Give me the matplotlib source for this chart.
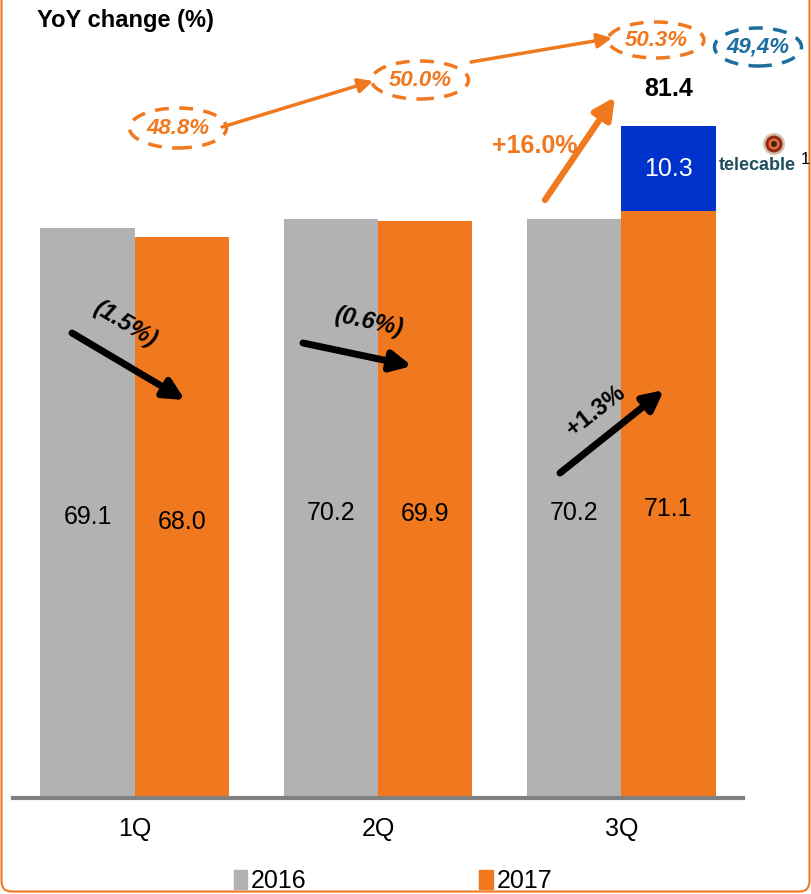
import matplotlib
matplotlib.use('Agg')
import numpy as np
from matplotlib import pyplot as plt
from matplotlib.patches import Ellipse, FancyBboxPatch, FancyArrowPatch, Patch

plt.rcParams['font.family'] = ['Liberation Sans', 'DejaVu Sans']

quarters = ['1Q', '2Q', '3Q']
v2016 = [69.1, 70.2, 70.2]
v2017 = [68.0, 69.9, 71.1]
telecable = [0, 0, 10.3]
total_3q = 81.4
yoy_labels = ['(1.5%)', '(0.6%)', '+1.3%']
share_labels = ['48.8%', '50.0%', '50.3%']
share_telecable = '49,4%'
growth_label = '+16.0%'

GREY = '#B2B2B2'
ORANGE = '#F0781E'
BLUE = '#0033CC'
TEAL = '#1B6E9E'

W, H = 812, 894


def px(x, y):
    # pixel position -> figure fraction
    return (x / W, 1 - y / H)


fig = plt.figure(figsize=(W / 100, H / 100), dpi=100)
ax = fig.add_axes([13 / W, (H - 798) / H, 730 / W, 95 * 8.25 / H])

x = np.arange(len(quarters))
bw = 0.387
b16 = ax.bar(x - bw / 2, v2016, bw, color=GREY, label='2016')
b17 = ax.bar(x + bw / 2, v2017, bw, color=ORANGE, label='2017')
btc = ax.bar(x + bw / 2, telecable, bw, bottom=v2017, color=BLUE)

for bars, vals in [(b16, v2016), (b17, v2017)]:
    for r, v in zip(bars, vals):
        ax.text(r.get_x() + r.get_width() / 2, v / 2 - 0.5, f'{v:.1f}',
                ha='center', va='center', fontsize=18, color='black')
r = btc[2]
ax.text(r.get_x() + r.get_width() / 2, v2017[2] + telecable[2] / 2,
        f'{telecable[2]:.1f}', ha='center', va='center', fontsize=18, color='white')
ax.text(r.get_x() + r.get_width() / 2, total_3q + 4.5, f'{total_3q:.1f}',
        ha='center', va='center', fontsize=18, fontweight='bold')

ax.set_xlim(-0.5, 2.5)
ax.set_ylim(0, 95)
ax.set_xticks(x)
ax.set_xticklabels(quarters, fontsize=18)
ax.tick_params(axis='x', length=0, pad=14)
ax.set_yticks([])
for s in ['top', 'left', 'right']:
    ax.spines[s].set_visible(False)
ax.spines['bottom'].set_color('#808080')
ax.spines['bottom'].set_linewidth(3)

# title
fig.text(*px(37, 21), 'YoY change (%)', fontsize=17, fontweight='bold', va='center')

# black yoy arrows
arrows = [((72, 333), (185, 400), (125, 324), -31),
          ((303, 343), (412, 366), (369, 322), -12),
          ((560, 473), (664, 390), (596, 411), 38)]
for lab, (p0, p1, pt, rot) in zip(yoy_labels, arrows):
    fig.add_artist(FancyArrowPatch(
        px(*p0), px(*p1), transform=fig.transFigure, arrowstyle='-|>',
        mutation_scale=30, lw=5, color='black', shrinkA=0, shrinkB=0))
    style = 'italic' if lab.startswith('(') else 'normal'
    fig.text(*px(*pt), lab, fontsize=17, fontweight='bold', style=style,
             rotation=rot, ha='center', va='center', rotation_mode='anchor')

# share ellipses
ell = [((178, 128), 97, 40), ((420, 80), 97, 38), ((656, 40), 96, 36)]
for lab, (c, w, h) in zip(share_labels, ell):
    fig.add_artist(Ellipse(px(*c), w / W, h / H, transform=fig.transFigure,
                           fill=False, ec=ORANGE, lw=2.5, ls=(0, (4, 3))))
    fig.text(*px(*c), lab, fontsize=16, fontweight='bold', style='italic',
             color=ORANGE, ha='center', va='center')
fig.add_artist(Ellipse(px(758, 47), 87 / W, 38 / H, transform=fig.transFigure,
                       fill=False, ec=TEAL, lw=2.5, ls=(0, (4, 3))))
fig.text(*px(758, 47), share_telecable, fontsize=16, fontweight='bold',
         style='italic', color=TEAL, ha='center', va='center')

# thin orange connectors
for p0, p1 in [((222, 127), (373, 81)), ((471, 62), (612, 38))]:
    fig.add_artist(FancyArrowPatch(
        px(*p0), px(*p1), transform=fig.transFigure, arrowstyle='-|>',
        mutation_scale=22, lw=2.5, color=ORANGE, shrinkA=0, shrinkB=0))

# +16% arrow
fig.add_artist(FancyArrowPatch(
    px(545, 200), px(615, 97), transform=fig.transFigure, arrowstyle='-|>',
    mutation_scale=32, lw=4.5, color=ORANGE, shrinkA=0, shrinkB=0))
fig.text(*px(535, 146), growth_label, fontsize=18, fontweight='bold',
         color=ORANGE, ha='center', va='center')

# telecable logo
for rad, col in [(11, '#D8C0A8'), (8.5, '#8B2A1A'), (5.5, '#E07030'), (3, '#3A2020')]:
    fig.add_artist(Ellipse(px(774, 144), 2 * rad / W, 2 * rad / H,
                           transform=fig.transFigure, color=col, lw=0))
fig.text(*px(757, 166), 'telecable', fontsize=13, fontweight='bold',
         color='#1F4E5F', ha='center', va='center')
fig.text(*px(805, 159), '1', fontsize=12, ha='center', va='center')

# legend
handles = [Patch(color=GREY, label='2016'), Patch(color=ORANGE, label='2017')]
fig.legend(handles=handles, loc='center', bbox_to_anchor=px(393, 881), ncol=2,
           frameon=False, fontsize=18, handlelength=0.55, handleheight=0.8,
           handletextpad=0.15, columnspacing=6.9)

# rounded orange frame
fig.add_artist(FancyBboxPatch((1.5 / W, 2.5 / H), (W - 4) / W, 1.2,
                              boxstyle='round,pad=0,rounding_size=0.012',
                              transform=fig.transFigure, fill=False,
                              ec=ORANGE, lw=1.5))

fig.savefig('out.png', dpi=100)
